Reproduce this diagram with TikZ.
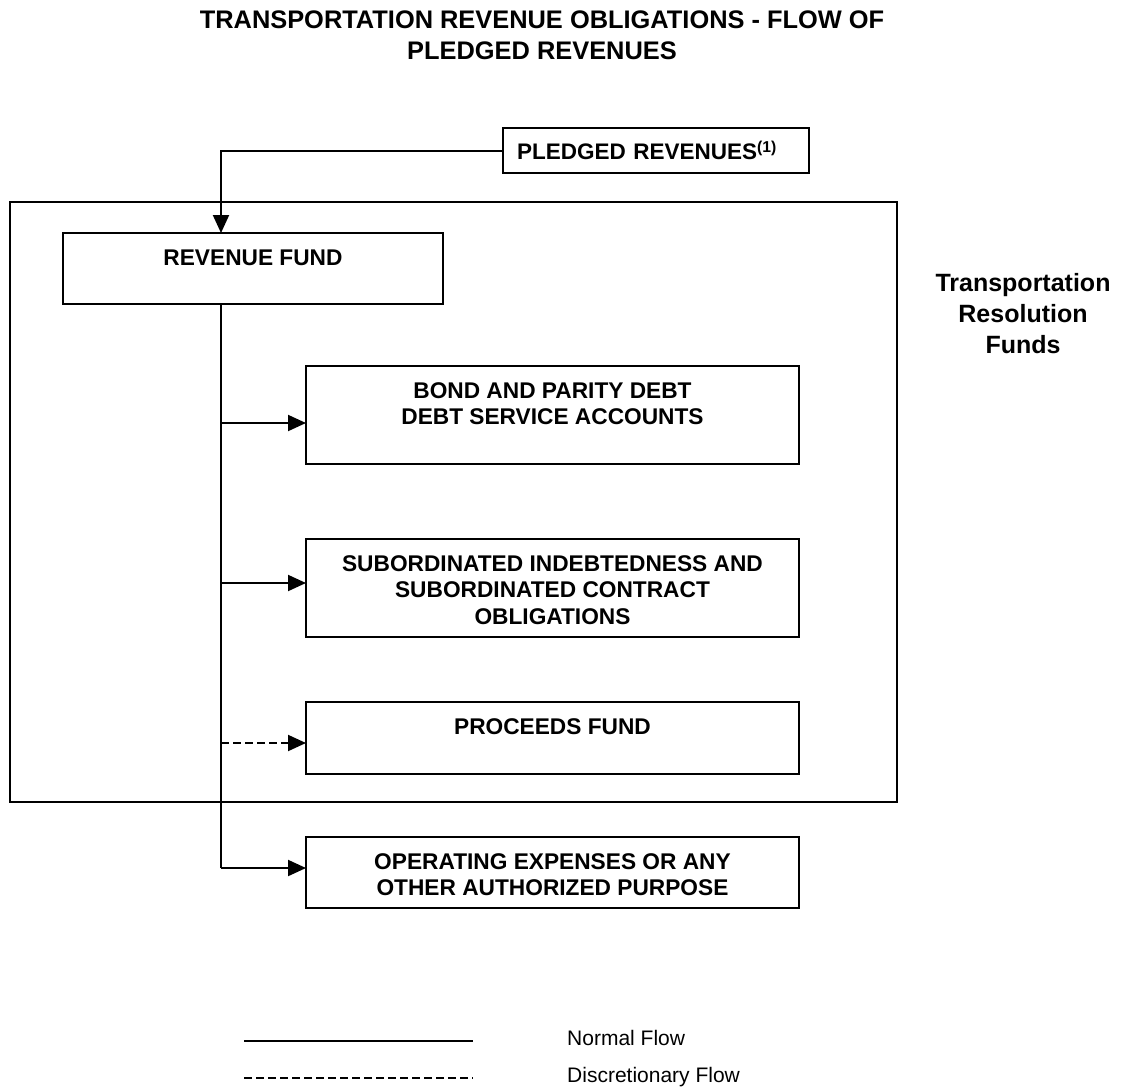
\documentclass[tikz,border=0pt]{standalone}
\usepackage{fontspec}
\setmainfont{Liberation Sans}
\usetikzlibrary{arrows.meta,positioning}

\begin{document}
\begin{tikzpicture}[x=1pt,y=-1pt,>={Triangle[length=18pt,width=16pt]},
    box/.style={draw,line width=2pt,outer sep=0pt,inner sep=0pt,minimum width=493pt},
    txt/.style={inner sep=0pt,align=center,font=\fontsize{22.7}{26.5}\selectfont\bfseries},
    flow/.style={line width=2pt},
    disc/.style={line width=2pt,dash pattern=on 8pt off 4pt}]
    \useasboundingbox (0,0) rectangle (1122,1088);
    \node[inner sep=0pt,align=center,font=\fontsize{25.4}{31}\selectfont\bfseries] (title) at (542,35)
        {TRANSPORTATION REVENUE OBLIGATIONS - FLOW OF\\PLEDGED REVENUES};
    \node[box,line width=2.4pt,minimum width=887pt,minimum height=600pt,anchor=north west] (trf) at (10,202) {};
    \node[inner sep=0pt,align=center,anchor=north,font=\fontsize{25}{31}\selectfont\bfseries] (trf-t) at (1023,273)
        {Transportation\\Resolution\\Funds};
    \node[box,minimum width=306pt,minimum height=45pt,anchor=north west,inner xsep=14pt,text width=278pt,align=left,
        font=\fontsize{22.5}{26.5}\selectfont\bfseries] (plg) at (503,128) {PLEDGED REVENUES\textsuperscript{(1)}};
    \node[box,minimum width=380pt,minimum height=71pt,anchor=north west] (rev) at (63,233) {};
    \node[box,minimum height=98pt,anchor=north west] (bond) at (306,366) {};
    \node[box,minimum height=98pt,below=75pt of bond] (sub) {};
    \node[box,minimum height=72pt,below=65pt of sub] (proc) {};
    \node[box,minimum height=71pt,below=63pt of proc] (opex) {};
    \node[txt,below=16.5pt of rev.north] (rev-t) {REVENUE FUND};
    \node[txt,below=16pt of bond.north] (bond-t) {BOND AND PARITY DEBT\\DEBT SERVICE ACCOUNTS};
    \node[txt,below=16pt of sub.north] (sub-t) {SUBORDINATED INDEBTEDNESS AND\\SUBORDINATED CONTRACT\\OBLIGATIONS};
    \node[txt,below=16.5pt of proc.north] (proc-t) {PROCEEDS FUND};
    \node[txt,below=16pt of opex.north] (opex-t) {OPERATING EXPENSES OR ANY\\OTHER AUTHORIZED PURPOSE};
    \coordinate (trunk) at (221,0);
    \coordinate (jb) at (221,423);
    \coordinate (js) at (221,583);
    \coordinate (jp) at (221,743);
    \coordinate (jo) at (221,868);
    \draw[flow,->] (plg.west) -| (rev.north -| trunk);
    \draw[flow] (rev.south -| trunk) -- (jo);
    \draw[flow,->] (jb) -- (jb -| bond.west);
    \draw[flow,->] (js) -- (js -| sub.west);
    \draw[disc,->] (jp) -- (jp -| proc.west);
    \draw[flow,->] (jo) -- (jo -| opex.west);
    \coordinate (l1a) at (244,1041);
    \coordinate (l1b) at (473,1041);
    \coordinate (l2a) at (244,1078);
    \coordinate (l2b) at (473,1078);
    \draw[flow] (l1a) -- (l1b);
    \draw[disc] (l2a) -- (l2b);
    \node[anchor=base west,inner sep=0pt,font=\fontsize{21}{25}\selectfont] (nrm) at (567,1045) {Normal Flow};
    \node[anchor=base west,inner sep=0pt,font=\fontsize{21}{25}\selectfont] (dsc) at (567,1082) {Discretionary Flow};
\end{tikzpicture}
\end{document}
